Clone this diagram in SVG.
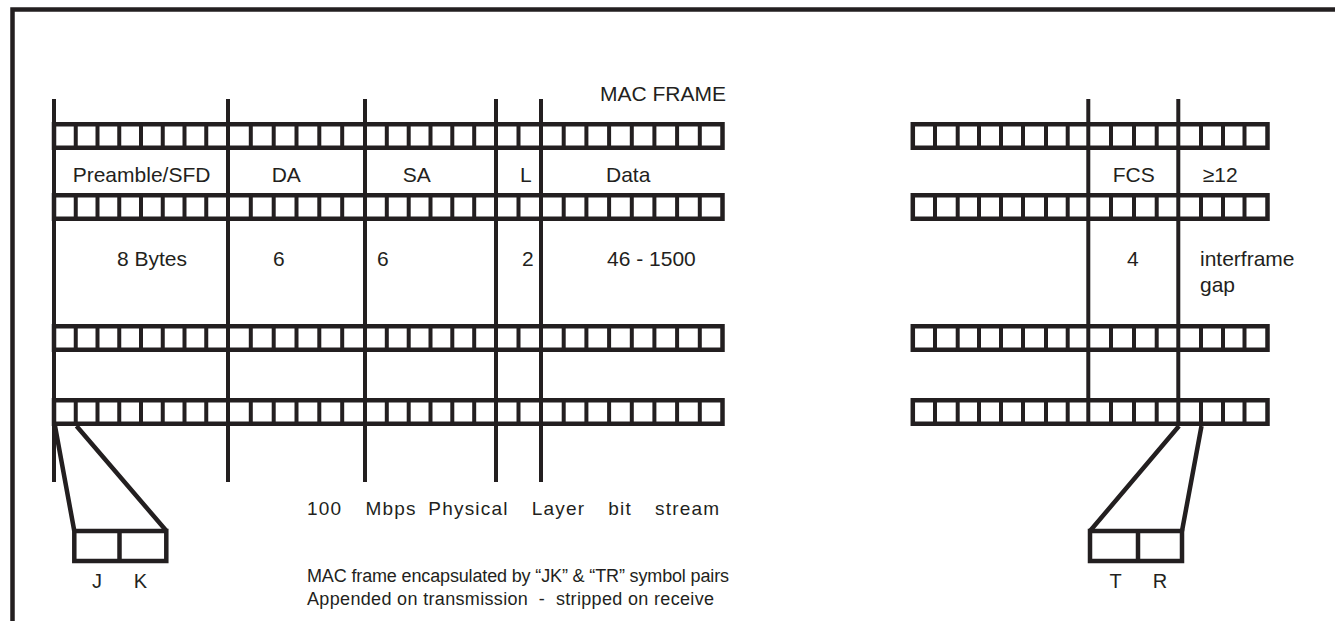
<svg xmlns="http://www.w3.org/2000/svg" width="1335" height="621" viewBox="0 0 1335 621">
<style>
  .ln{stroke:#231f20;fill:none;stroke-linecap:butt}
  .t{font-family:"Liberation Sans",Arial,sans-serif;font-size:21px;fill:#231f20}
  .b{font-family:"Liberation Sans",Arial,sans-serif;font-size:18px;fill:#231f20}
  .m{font-family:"Liberation Sans",Arial,sans-serif;font-size:19px;letter-spacing:1.2px;fill:#231f20}
  .c{font-family:"Liberation Sans",Arial,sans-serif;font-size:20px;fill:#231f20;text-anchor:middle}
</style>
<defs>
  <g id="stripL">
    <rect x="54" y="2.25" width="668.5" height="23.5" fill="#fff" stroke="#231f20" stroke-width="4.5"/>
    <path class="ln" stroke-width="4" d="M75.75 0V28M97.5 0V28M119.25 0V28M141 0V28M162.75 0V28M184.5 0V28M206.25 0V28M228 0V28M250.8 0V28M273.7 0V28M296.5 0V28M319.3 0V28M342.2 0V28M365 0V28M386.8 0V28M408.7 0V28M430.5 0V28M452.3 0V28M474.2 0V28M496 0V28M518.5 0V28M541 0V28M563.7 0V28M586.4 0V28M609.1 0V28M631.8 0V28M654.4 0V28M677.1 0V28M699.8 0V28"/>
  </g>
  <g id="stripR">
    <rect x="912.8" y="2.25" width="354.7" height="23.5" fill="#fff" stroke="#231f20" stroke-width="4.5"/>
    <path class="ln" stroke-width="4" d="M935 0V28M957.7 0V28M979 0V28M1001 0V28M1023 0V28M1046 0V28M1067.7 0V28M1088.3 0V28M1111 0V28M1134 0V28M1156.7 0V28M1178.3 0V28M1201 0V28M1223 0V28M1244.5 0V28"/>
  </g>
</defs>
<rect width="1335" height="621" fill="#fff"/>
<g id="border">
  <path class="ln" stroke-width="4.5" d="M12.5 621V9.5H1335"/>
</g>
<g id="field-dividers">
  <path class="ln" stroke-width="4" d="M54 99V482M228 99V482M365 99V482M496 99V482M541 99V482M1088.3 99V400M1178.3 99V400"/>
</g>
<g id="strips">
  <use href="#stripL" y="122"/>
  <use href="#stripL" y="193"/>
  <use href="#stripL" y="324"/>
  <use href="#stripL" y="398"/>
  <use href="#stripR" y="122"/>
  <use href="#stripR" y="193"/>
  <use href="#stripR" y="324"/>
  <use href="#stripR" y="398"/>
</g>
<g id="title">
  <text class="t" x="600" y="101">MAC FRAME</text>
</g>
<g id="field-preamble">
  <text class="t" x="72.7" y="182">Preamble/SFD</text>
  <text class="t" x="117" y="266">8 Bytes</text>
</g>
<g id="field-da">
  <text class="t" x="271.7" y="182">DA</text>
  <text class="t" x="273" y="266">6</text>
</g>
<g id="field-sa">
  <text class="t" x="402.7" y="182">SA</text>
  <text class="t" x="377" y="266">6</text>
</g>
<g id="field-l">
  <text class="t" x="520" y="182">L</text>
  <text class="t" x="522" y="266">2</text>
</g>
<g id="field-data">
  <text class="t" x="606" y="182">Data</text>
  <text class="t" x="607" y="266" xml:space="preserve">46 - 1500</text>
</g>
<g id="field-fcs">
  <text class="t" x="1112.7" y="182">FCS</text>
  <text class="t" x="1127" y="266">4</text>
</g>
<g id="field-gap">
  <text class="t" x="1202.7" y="182">≥12</text>
  <text class="t" x="1200" y="266">interframe</text>
  <text class="t" x="1200" y="292">gap</text>
</g>
<g id="connectors">
  <path class="ln" stroke-width="4.5" d="M55 426L74.3 531M76.5 426L166.5 531M1179 426L1090 531M1201.5 426L1182 531"/>
</g>
<g id="jk-box">
  <rect x="74.3" y="531" width="92" height="30" fill="#fff" stroke="#231f20" stroke-width="4.5"/>
  <path class="ln" stroke-width="4.5" d="M119.5 531V561"/>
  <text class="c" x="97" y="588">J</text>
  <text class="c" x="140.5" y="588">K</text>
</g>
<g id="tr-box">
  <rect x="1090" y="531" width="92" height="30" fill="#fff" stroke="#231f20" stroke-width="4.5"/>
  <path class="ln" stroke-width="4.5" d="M1138 531V561"/>
  <text class="c" x="1115.5" y="588">T</text>
  <text class="c" x="1160" y="588">R</text>
</g>
<g id="notes">
  <text class="m" y="515"><tspan x="307">100</tspan> <tspan x="365.4">Mbps</tspan> <tspan x="428.3">Physical</tspan> <tspan x="531.7">Layer</tspan> <tspan x="608.3">bit</tspan> <tspan x="655">stream</tspan></text>
  <text class="b" x="307" y="582" textLength="422" lengthAdjust="spacing">MAC frame encapsulated by “JK” &amp; “TR” symbol pairs</text>
  <text class="b" x="307" y="605" xml:space="preserve" textLength="407" lengthAdjust="spacing">Appended on transmission  -  stripped on receive</text>
</g>
</svg>
